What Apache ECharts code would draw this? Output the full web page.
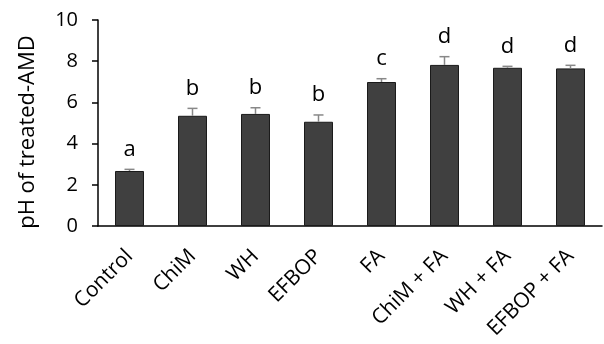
<!DOCTYPE html>
<html><head><meta charset="utf-8">
<script src="https://cdn.jsdelivr.net/npm/echarts@6/dist/echarts.min.js"></script>
<style>html,body{margin:0;padding:0;background:#fff}#c{width:604px;height:344px}</style>
</head><body><div id="c"></div>
<script>
const categories = ['Control','ChiM','WH','EFBOP','FA','ChiM + FA','WH + FA','EFBOP + FA'];
const phValues = [2.67, 5.35, 5.44, 5.06, 6.99, 7.82, 7.68, 7.65];
const phErrors = [0.08, 0.36, 0.30, 0.33, 0.16, 0.40, 0.07, 0.15];
const letters = ['a','b','b','b','c','d','d','d'];
const yTicks = [0, 2, 4, 6, 8, 10];

const font = '"Open Sans", "Noto Sans", sans-serif';
const chart = echarts.init(document.getElementById('c'));
chart.setOption({
  animation: false,
  grid: {left: 98, right: 2, top: 20, bottom: 118, containLabel: false},
  xAxis: {
    type: 'category', data: categories,
    axisLine: {lineStyle: {color: '#000', width: 1.5}},
    axisTick: {show: false},
    axisLabel: {rotate: 45, interval: 0, margin: 27, color: '#000', fontSize: 21, fontFamily: font}
  },
  yAxis: {
    type: 'value', min: yTicks[0], max: yTicks[yTicks.length-1], interval: 2,
    name: 'pH of treated-AMD', nameLocation: 'middle', nameGap: 59,
    nameTextStyle: {color: '#000', fontSize: 22, fontFamily: font, padding: [0, 18, 0, 0]},
    axisLine: {show: true, lineStyle: {color: '#000', width: 1.5}},
    axisTick: {show: true, inside: false, length: 6, lineStyle: {color: '#000', width: 1.5}},
    axisLabel: {margin: 20, color: '#000', fontSize: 20, fontFamily: font},
    splitLine: {show: false}
  },
  series: [
    {
      type: 'bar', data: phValues, barWidth: '46%',
      itemStyle: {color: '#404040', borderColor: '#1a1a1a', borderWidth: 1}
    },
    {
      type: 'custom',
      data: phValues.map((v, i) => [i, v, v + phErrors[i], letters[i]]),
      encode: {x: 0, y: 2},
      renderItem: function (params, api) {
        const x = api.value(0);
        const p0 = api.coord([x, api.value(1)]);
        const p1 = api.coord([x, api.value(2)]);
        const cap = 5;
        return {
          type: 'group',
          children: [
            {type: 'line', shape: {x1: p0[0], y1: p0[1], x2: p1[0], y2: p1[1]}, style: {stroke: '#888', lineWidth: 1.5}},
            {type: 'line', shape: {x1: p1[0]-cap, y1: p1[1], x2: p1[0]+cap, y2: p1[1]}, style: {stroke: '#888', lineWidth: 1.5}},
            {type: 'text', x: p1[0], y: p1[1] - 20, style: {text: api.value(3), fill: '#000', fontSize: 22, fontFamily: font, align: 'center', verticalAlign: 'middle'}}
          ]
        };
      },
      z: 3
    }
  ]
});
</script></body></html>
